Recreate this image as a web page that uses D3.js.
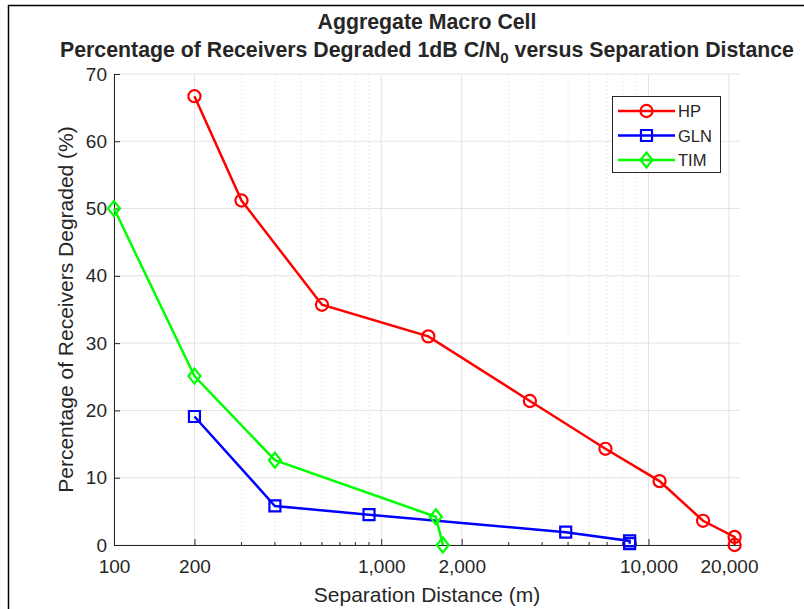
<!DOCTYPE html>
<html>
<head>
<meta charset="utf-8">
<script src="https://cdn.jsdelivr.net/npm/d3@7"></script>
<style>
  body { margin: 0; background: #fff; }
  svg text { font-family: "Liberation Sans", Arial, sans-serif; fill: #262626; }
</style>
</head>
<body>
<script>
// Chart data
var hpDistance = [200, 300, 600, 1500, 3600, 6900, 11000, 16000, 21000, 21000];
var hpPercent = [66.7, 51.2, 35.7, 31.0, 21.4, 14.3, 9.5, 3.6, 1.2, 0];

var glnDistance = [200, 400, 900, 4900, 8500, 8500];
var glnPercent = [19.1, 5.8, 4.5, 1.9, 0.6, 0.2];

var timDistance = [100, 200, 400, 1600, 1700];
var timPercent = [50, 25.1, 12.6, 4.2, 0];

var xTickValues = [100, 200, 1000, 2000, 10000, 20000];
var yTickValues = [0, 10, 20, 30, 40, 50, 60, 70];

// SVG size and margins
var svgWidth = 804;
var svgHeight = 609;
var margin = { top: 74, right: 64, bottom: 64, left: 114 };
var chartWidth = svgWidth - margin.left - margin.right;
var chartHeight = svgHeight - margin.top - margin.bottom;

var svg = d3.select("body")
  .append("svg")
  .attr("width", svgWidth)
  .attr("height", svgHeight);

// frame lines of the original screenshot
svg.append("line").attr("x1", 8).attr("x2", svgWidth).attr("y1", 5.5).attr("y2", 5.5)
  .attr("stroke", "#000").attr("stroke-width", 1.5);
svg.append("line").attr("x1", 8.5).attr("x2", 8.5).attr("y1", 5).attr("y2", svgHeight)
  .attr("stroke", "#000").attr("stroke-width", 1.5);

var chartGroup = svg.append("g")
  .attr("transform", "translate(" + margin.left + ", " + margin.top + ")");

var xLogScale = d3.scaleLog().domain([100, 22000]).range([0, chartWidth]);
var yLinearScale = d3.scaleLinear().domain([0, 70]).range([chartHeight, 0]);

// minor log ticks (2..9 x decade) not already major
var minorTicks = xLogScale.ticks().filter(function (t) {
  return xTickValues.indexOf(t) < 0;
});

// grid lines
chartGroup.selectAll(".minor-grid")
  .data(minorTicks)
  .enter().append("line")
  .attr("x1", function (d) { return xLogScale(d); })
  .attr("x2", function (d) { return xLogScale(d); })
  .attr("y1", 0).attr("y2", chartHeight)
  .attr("stroke", "#d9d9d9").attr("stroke-dasharray", "1,3");

chartGroup.selectAll(".x-grid")
  .data(xTickValues)
  .enter().append("line")
  .attr("x1", function (d) { return xLogScale(d); })
  .attr("x2", function (d) { return xLogScale(d); })
  .attr("y1", 0).attr("y2", chartHeight)
  .attr("stroke", "#e3e3e3");

chartGroup.selectAll(".y-grid")
  .data(yTickValues)
  .enter().append("line")
  .attr("x1", 0).attr("x2", chartWidth)
  .attr("y1", function (d) { return yLinearScale(d); })
  .attr("y2", function (d) { return yLinearScale(d); })
  .attr("stroke", "#e3e3e3");

// axes with inward ticks
var bottomAxis = d3.axisBottom(xLogScale)
  .tickValues(xTickValues)
  .tickSize(-6)
  .tickPadding(15)
  .tickFormat(d3.format(","));
var leftAxis = d3.axisLeft(yLinearScale)
  .tickValues(yTickValues)
  .tickSize(-6)
  .tickPadding(7);

var xAxisGroup = chartGroup.append("g")
  .attr("transform", "translate(0, " + chartHeight + ")")
  .call(bottomAxis);
xAxisGroup.selectAll(".minor")
  .data(minorTicks)
  .enter().append("line")
  .attr("x1", function (d) { return xLogScale(d); })
  .attr("x2", function (d) { return xLogScale(d); })
  .attr("y1", 0).attr("y2", -3)
  .attr("stroke", "#262626");

var yAxisGroup = chartGroup.append("g").call(leftAxis);

[xAxisGroup, yAxisGroup].forEach(function (g) {
  g.select(".domain").attr("stroke", "#262626").attr("d", function () {
    return g === xAxisGroup ? "M0,0.5H" + chartWidth : "M0.5," + chartHeight + "V0";
  });
  g.selectAll(".tick line").attr("stroke", "#262626");
  g.selectAll(".tick text").style("font-size", "19px").attr("fill", "#262626");
});

// series lines and markers
var series = [
  { name: "HP", color: "#ff0000", marker: "circle", xs: hpDistance, ys: hpPercent },
  { name: "GLN", color: "#0000ff", marker: "square", xs: glnDistance, ys: glnPercent },
  { name: "TIM", color: "#00ff00", marker: "diamond", xs: timDistance, ys: timPercent }
];

var drawLine = d3.line()
  .x(function (d) { return xLogScale(d[0]); })
  .y(function (d) { return yLinearScale(d[1]); });

function markerPath(type) {
  if (type === "circle") return d3.symbol().type(d3.symbolCircle).size(115)();
  if (type === "square") return "M-5.5,-5.5H5.5V5.5H-5.5Z";
  return "M0,-7.5L6,0L0,7.5L-6,0Z";
}

series.forEach(function (s) {
  var points = s.xs.map(function (x, i) { return [x, s.ys[i]]; });
  chartGroup.append("path")
    .attr("d", drawLine(points))
    .attr("fill", "none")
    .attr("stroke", s.color)
    .attr("stroke-width", 2.5);
  chartGroup.selectAll(".pt-" + s.name)
    .data(points)
    .enter().append("path")
    .attr("transform", function (d) {
      return "translate(" + xLogScale(d[0]) + "," + yLinearScale(d[1]) + ")";
    })
    .attr("d", markerPath(s.marker))
    .attr("fill", "none")
    .attr("stroke", s.color)
    .attr("stroke-width", 2.2);
});

// legend
var legend = svg.append("g").attr("transform", "translate(612, 96)");
legend.append("rect")
  .attr("x", 0.5).attr("y", 0.5).attr("width", 108).attr("height", 76)
  .attr("fill", "#fff").attr("stroke", "#262626");
series.forEach(function (s, i) {
  var y = 15 + i * 24.5;
  legend.append("line")
    .attr("x1", 6).attr("x2", 63).attr("y1", y).attr("y2", y)
    .attr("stroke", s.color).attr("stroke-width", 2.5);
  legend.append("path")
    .attr("transform", "translate(34.5," + y + ")")
    .attr("d", markerPath(s.marker))
    .attr("fill", "none").attr("stroke", s.color).attr("stroke-width", 2.2);
  legend.append("text")
    .attr("x", 66).attr("y", y + 6)
    .style("font-size", "16.5px")
    .text(s.name);
});

// titles
var cx = margin.left + chartWidth / 2;
svg.append("text")
  .attr("x", cx).attr("y", 29)
  .attr("text-anchor", "middle")
  .style("font-size", "21.3px").style("font-weight", "bold")
  .text("Aggregate Macro Cell");
var t2 = svg.append("text")
  .attr("x", cx).attr("y", 57)
  .attr("text-anchor", "middle")
  .style("font-size", "21.3px").style("font-weight", "bold");
t2.append("tspan").text("Percentage of Receivers Degraded 1dB C/N");
t2.append("tspan").attr("dy", 6).style("font-size", "15px").text("0");
t2.append("tspan").attr("dy", -6).text(" versus Separation Distance");

svg.append("text")
  .attr("x", cx).attr("y", 602)
  .attr("text-anchor", "middle")
  .style("font-size", "21px")
  .text("Separation Distance (m)");

svg.append("text")
  .attr("transform", "translate(73," + (margin.top + chartHeight / 2) + ") rotate(-90)")
  .attr("text-anchor", "middle")
  .style("font-size", "21px")
  .text("Percentage of Receivers Degraded (%)");
</script>
</body>
</html>
